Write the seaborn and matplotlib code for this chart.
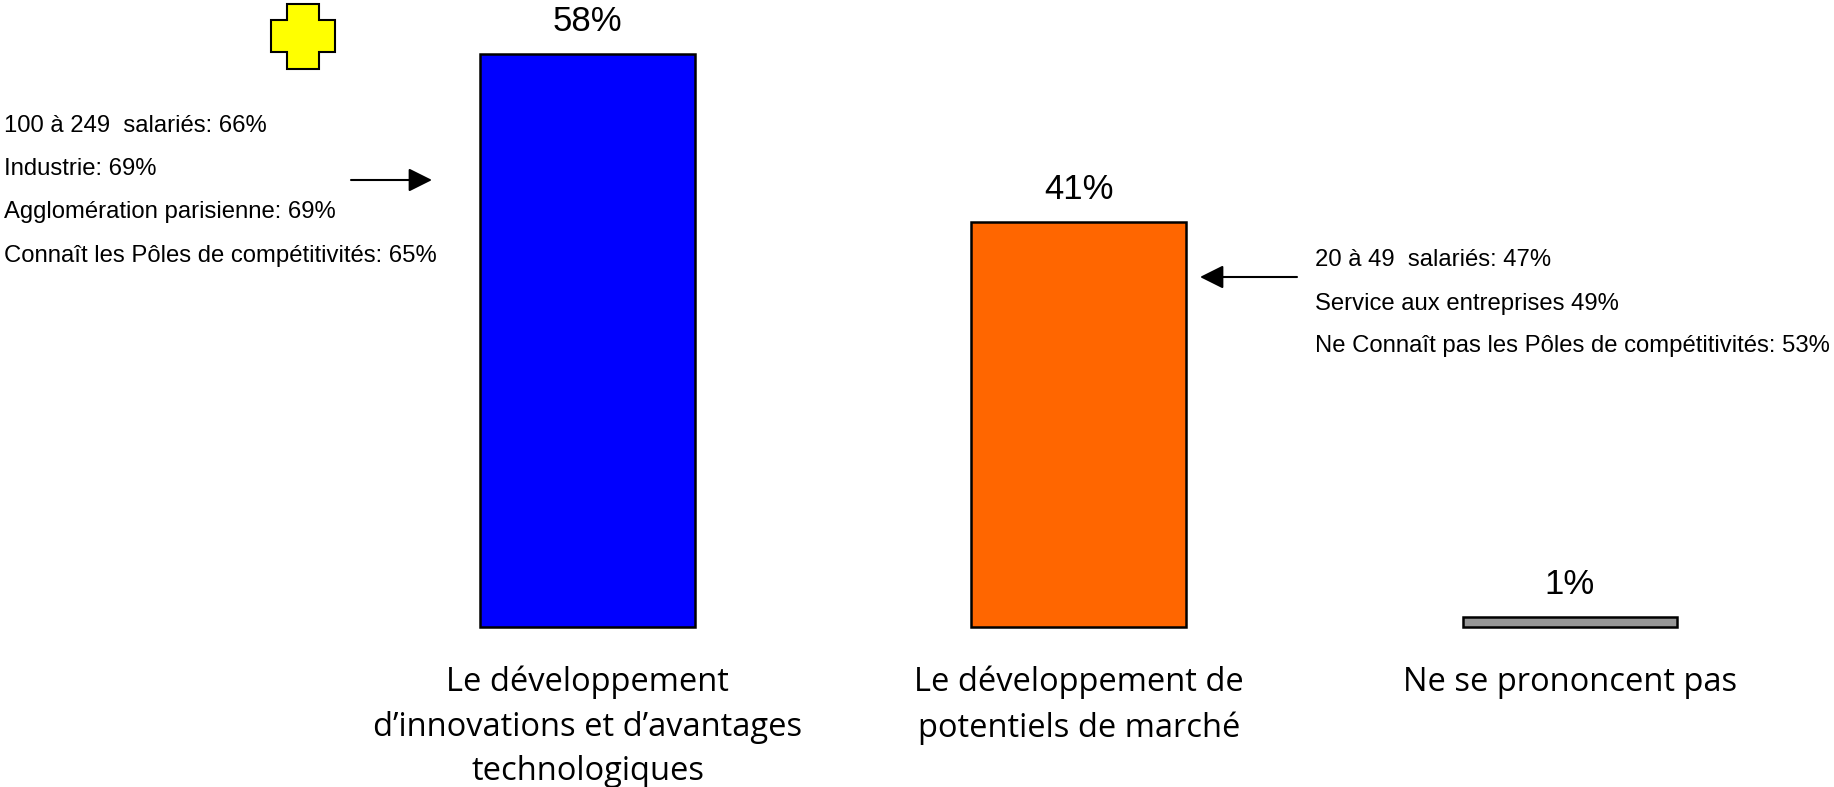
"""Bar chart: 3 categories with side notes, drawn in seaborn."""

import matplotlib.pyplot as plt
import matplotlib.patches as mpatches
from matplotlib.transforms import Affine2D
import pandas as pd
import seaborn as sns

CATEGORIES = [
    "Le développement\nd’innovations et d’avantages\ntechnologiques",
    "Le développement de\npotentiels de marché",
    "Ne se prononcent pas",
]
VALUES = [58, 41, 1]
COLORS = ["#0000FF", "#FF6600", "#969696"]

NOTES_LEFT = [
    "100 à 249  salariés: 66%",
    "Industrie: 69%",
    "Agglomération parisienne: 69%",
    "Connaît les Pôles de compétitivités: 65%",
]
NOTES_RIGHT = [
    "20 à 49  salariés: 47%",
    "Service aux entreprises 49%",
    "Ne Connaît pas les Pôles de compétitivités: 53%",
]

W, H = 1834, 787

sns.set_theme(style="white")
plt.rcParams["font.family"] = ["Liberation Sans", "DejaVu Sans"]

fig = plt.figure(figsize=(W / 100, H / 100), dpi=100, facecolor="white")
# axes placed so the category centres and the baseline land where they should
ax = fig.add_axes([342 / W, 1 - 627 / H, (1815.5 - 342) / W, 627 / H])

df = pd.DataFrame({"category": CATEGORIES, "value": VALUES})
sns.barplot(data=df, x="category", y="value", hue="category", palette=COLORS,
            width=0.437, saturation=1, edgecolor="black", linewidth=1.8,
            legend=False, ax=ax)
ax.set_xlim(-0.5, 2.5)
ax.set_ylim(0, 63.5)
ax.set_xlabel("")
ax.set_ylabel("")
ax.set_yticks([])
sns.despine(ax=ax, left=True, bottom=True)
ax.patch.set_alpha(0)

for bar in ax.patches:
    bar.set_clip_on(False)

for container in ax.containers:
    ax.bar_label(container, fmt="%d%%", padding=11.5, fontsize=25, color="black")

ax.tick_params(axis="x", length=0, pad=28)
ax.set_xticks(range(len(CATEGORIES)))
ax.set_xticklabels(CATEGORIES, family="Open Sans", fontsize=23.5, linespacing=1.46,
                   color="black", va="top")

# overlay work in image pixels, y going down
px = Affine2D().scale(1, -1).translate(0, H)

for text, y in zip(NOTES_LEFT, [126, 169, 212, 256]):
    fig.text(4, y, text, transform=px, fontsize=17.2, va="center", ha="left", color="black")
for text, y in zip(NOTES_RIGHT, [260, 304, 346]):
    fig.text(1315, y, text, transform=px, fontsize=17.2, va="center", ha="left", color="black")

arrow = dict(arrowstyle="-|>,head_length=1.0,head_width=0.5", color="black", lw=1.5,
             mutation_scale=14.4, shrinkA=0, shrinkB=0)
ax.annotate("", xy=(432, 180), xytext=(351, 180), xycoords=px, textcoords=px, arrowprops=arrow)
ax.annotate("", xy=(1200, 277), xytext=(1297, 277), xycoords=px, textcoords=px, arrowprops=arrow)

# yellow plus in the corner
cross = [(287, 4), (319, 4), (319, 20), (335, 20), (335, 52), (319, 52),
         (319, 69), (287, 69), (287, 52), (271, 52), (271, 20), (287, 20)]
fig.add_artist(mpatches.Polygon(cross, closed=True, transform=px, facecolor="#FFFF00",
                                edgecolor="black", linewidth=1.5))

fig.savefig("out.png", dpi=100)
